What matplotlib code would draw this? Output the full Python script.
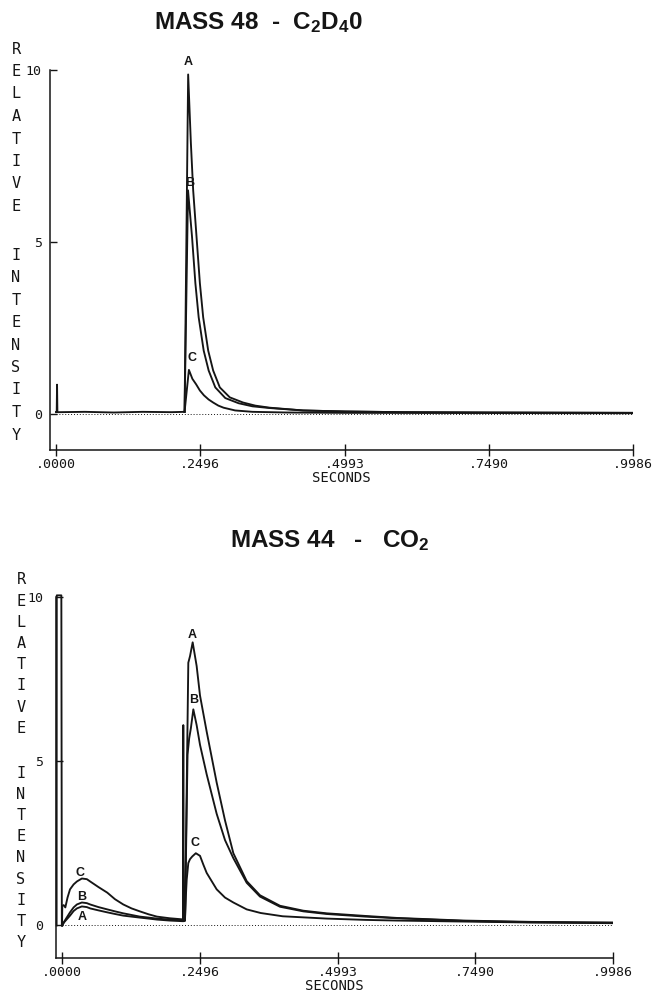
import matplotlib
matplotlib.use("Agg")
import matplotlib.pyplot as plt

plt.rcParams['mathtext.default'] = 'regular'

W, H = 653, 992
INK = '#151515'

# ---------------- data: MASS 48 (C2D4O) ----------------
x_ticks = [0.0, 0.2496, 0.4993, 0.7490, 0.9986]
x_ticklabels = ['.0000', '.2496', '.4993', '.7490', '.9986']
y_ticks = [0, 5, 10]
y_ticklabels = ['0', '5', '10']

t48_pre = [0.0, 0.0012, 0.0018, 0.0024, 0.006, 0.05, 0.10, 0.15, 0.20, 0.2225]
i48_pre = [0.05, 0.05, 0.85, 0.05, 0.05, 0.06, 0.04, 0.06, 0.05, 0.06]

t48_A = [0.2225, 0.2287, 0.2334, 0.2374, 0.2432, 0.2490, 0.2547, 0.2634, 0.2720,
         0.2835, 0.3008, 0.3238, 0.345, 0.370, 0.4275, 0.50, 0.60, 0.75, 0.9986]
i48_A = [0.06, 9.87, 7.88, 6.5, 5.15, 3.8, 2.81, 1.84, 1.26,
         0.77, 0.48, 0.33, 0.24, 0.18, 0.10, 0.07, 0.05, 0.04, 0.03]

t48_B = [0.2225, 0.2285, 0.2354, 0.2412, 0.2469, 0.2556, 0.2642, 0.2757, 0.2930,
         0.3160, 0.340, 0.370, 0.4275, 0.50, 0.60, 0.75, 0.9986]
i48_B = [0.06, 6.5, 5.15, 3.8, 2.81, 1.84, 1.26, 0.77, 0.46,
         0.31, 0.22, 0.17, 0.10, 0.07, 0.05, 0.04, 0.03]

t48_C = [0.2225, 0.2300, 0.2360, 0.2425, 0.2490, 0.2560, 0.2640, 0.2720, 0.2810,
         0.2900, 0.3100, 0.3400, 0.4000, 0.5000, 0.9986]
i48_C = [0.06, 1.28, 1.02, 0.86, 0.68, 0.54, 0.42, 0.33, 0.24,
         0.18, 0.10, 0.06, 0.04, 0.03, 0.02]

# ---------------- data: MASS 44 (CO2) ----------------
t44_pre = [-0.0098, -0.0095, -0.0012, -0.0003, 0.0]
i44_pre = [0.0, 10.05, 10.05, 0.0, 0.0]

t44_A = [0.0, 0.004, 0.0145, 0.021, 0.027, 0.036, 0.045, 0.051, 0.066, 0.082, 0.096,
         0.111, 0.126, 0.141, 0.157, 0.172, 0.195, 0.2195, 0.2198, 0.2202, 0.2229,
         0.2289, 0.2320, 0.2368, 0.2440, 0.2501, 0.2622, 0.2803, 0.2954, 0.3105,
         0.3347, 0.3588, 0.3951, 0.4373, 0.4797, 0.55, 0.6066, 0.727, 0.85, 0.9986]
i44_A = [0.0, 0.10, 0.30, 0.44, 0.52, 0.58, 0.56, 0.52, 0.46, 0.40, 0.35,
         0.30, 0.27, 0.24, 0.21, 0.18, 0.15, 0.13, 6.1, 0.13, 0.14,
         8.0, 8.2, 8.62, 7.9, 7.0, 5.9, 4.35, 3.2, 2.2,
         1.35, 0.92, 0.60, 0.45, 0.37, 0.29, 0.23, 0.15, 0.11, 0.09]

t44_B = [0.0, 0.004, 0.0145, 0.021, 0.027, 0.036, 0.045, 0.051, 0.066, 0.082, 0.096,
         0.111, 0.126, 0.141, 0.157, 0.172, 0.195, 0.2229, 0.2275, 0.2305, 0.2335,
         0.2380, 0.2440, 0.2501, 0.2622, 0.2803, 0.2954, 0.3105, 0.3347, 0.3588,
         0.3951, 0.4373, 0.4797, 0.55, 0.6066, 0.727, 0.85, 0.9986]
i44_B = [0.0, 0.12, 0.40, 0.55, 0.64, 0.70, 0.68, 0.64, 0.56, 0.49, 0.43,
         0.37, 0.32, 0.27, 0.24, 0.21, 0.18, 0.16, 5.2, 5.7, 6.0,
         6.58, 6.1, 5.5, 4.6, 3.4, 2.6, 2.05, 1.3, 0.88,
         0.57, 0.43, 0.35, 0.27, 0.22, 0.14, 0.10, 0.08]

t44_C = [0.0, 0.0005, 0.003, 0.006, 0.010, 0.0145, 0.021, 0.027, 0.036, 0.045, 0.051,
         0.066, 0.082, 0.096, 0.111, 0.126, 0.141, 0.157, 0.172, 0.195, 0.2229,
         0.2245, 0.2260, 0.2289, 0.2320, 0.2360, 0.2425, 0.2501, 0.2562, 0.2622,
         0.2803, 0.2954, 0.3105, 0.3347, 0.3600, 0.4000, 0.4797, 0.55, 0.6066,
         0.727, 0.85, 0.9986]
i44_C = [0.0, 0.60, 0.62, 0.55, 0.85, 1.10, 1.25, 1.34, 1.43, 1.41, 1.34,
         1.17, 1.00, 0.80, 0.64, 0.52, 0.43, 0.34, 0.27, 0.22, 0.18,
         0.90, 1.40, 1.90, 2.02, 2.10, 2.20, 2.12, 1.85, 1.60,
         1.10, 0.85, 0.70, 0.49, 0.38, 0.28, 0.21, 0.17, 0.15,
         0.12, 0.09, 0.07]

# ---------------- figure ----------------
fig = plt.figure(figsize=(W / 100, H / 100), dpi=100)
fig.patch.set_facecolor('white')


def px_axes(left, right, top, bottom):
    return fig.add_axes([left / W, 1 - bottom / H, (right - left) / W, (bottom - top) / H])


def style(ax, xlim, ylim, ypad):
    ax.set_xlim(*xlim)
    ax.set_ylim(*ylim)
    for s in ('top', 'right'):
        ax.spines[s].set_visible(False)
    for s in ('left', 'bottom'):
        ax.spines[s].set_linewidth(1.1)
        ax.spines[s].set_color(INK)
    ax.set_xticks(x_ticks)
    ax.set_xticklabels(x_ticklabels, family='DejaVu Sans Mono', fontsize=9.5, color=INK)
    ax.set_yticks(y_ticks)
    ax.set_yticklabels(y_ticklabels, family='DejaVu Sans Mono', fontsize=9.5, color=INK)
    ax.tick_params(axis='x', direction='inout', length=8, width=1.0, pad=2, colors=INK)
    ax.tick_params(axis='y', direction='in', length=5, width=1.0, pad=ypad, colors=INK)
    ax.set_xlabel('SECONDS', family='DejaVu Sans Mono', fontsize=10, color=INK, labelpad=0)
    ax.plot([0.0, 0.9986], [0, 0], ls=(0, (1, 2)), lw=0.7, color=INK, zorder=1)


def letters(word_tops, x, step):
    for word, y0 in word_tops:
        for k, ch in enumerate(word):
            fig.text(x / W, 1 - (y0 + k * step) / H, ch, family='DejaVu Sans Mono',
                     fontsize=11, color=INK, ha='center', va='center')


lw = 1.35

# ---- top panel ----
ax1 = px_axes(50, 633, 70, 450)
style(ax1, (-0.0104, 0.9986), (-1.05, 10), 6)
ax1.plot(t48_pre, i48_pre, color=INK, lw=lw)
ax1.plot(t48_A, i48_A, color=INK, lw=lw)
ax1.plot(t48_B, i48_B, color=INK, lw=lw)
ax1.plot(t48_C, i48_C, color=INK, lw=lw)
lab = dict(family='Liberation Sans', weight='bold', fontsize=9, color=INK,
           ha='center', va='center')
ax1.text(0.2285, 10.23, 'A', **lab)
ax1.text(0.2310, 6.72, 'B', **lab)
ax1.text(0.2345, 1.63, 'C', **lab)
fig.text(258 / W, 1 - 23 / H, 'MASS 48  -  C$_2$D$_4$0', family='Liberation Sans',
         weight='bold', fontsize=17.5, color=INK, ha='center', va='center')
letters([('RELATIVE', 49), ('INTENSITY', 255)], 16, 22.5)

# ---- bottom panel ----
ax2 = px_axes(56, 613, 597, 958)
style(ax2, (-0.0109, 0.9986), (-0.99, 10), 9)
ax2.plot(t44_pre, i44_pre, color=INK, lw=lw, clip_on=False)
ax2.plot(t44_A, i44_A, color=INK, lw=lw)
ax2.plot(t44_B, i44_B, color=INK, lw=lw)
ax2.plot(t44_C, i44_C, color=INK, lw=lw)
ax2.text(0.2356, 8.84, 'A', **lab)
ax2.text(0.2383, 6.86, 'B', **lab)
ax2.text(0.2410, 2.51, 'C', **lab)
ax2.text(0.0326, 1.60, 'C', **lab)
ax2.text(0.0360, 0.87, 'B', **lab)
ax2.text(0.0360, 0.26, 'A', **lab)
fig.text(330 / W, 1 - 541 / H, 'MASS 44   -   CO$_2$', family='Liberation Sans',
         weight='bold', fontsize=17.5, color=INK, ha='center', va='center')
letters([('RELATIVE', 580), ('INTENSITY', 773)], 21, 21.2)

fig.savefig('out.png', dpi=100, facecolor='white')
